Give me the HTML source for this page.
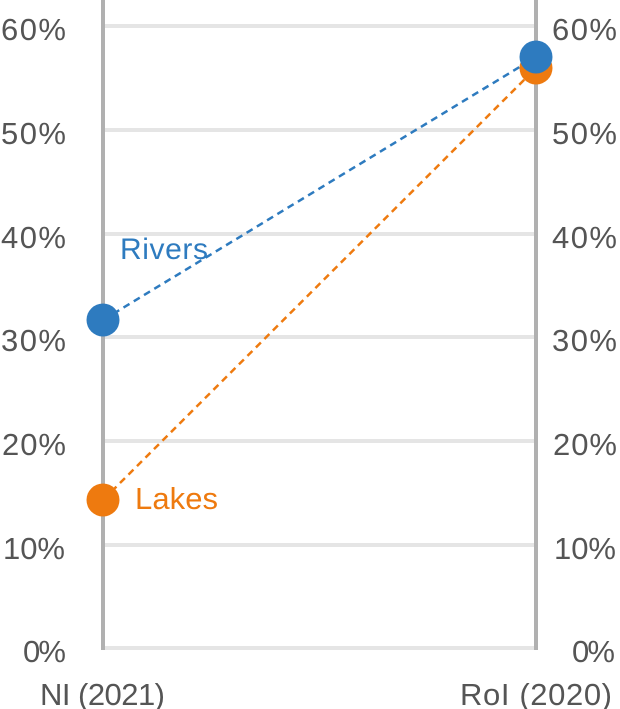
<!DOCTYPE html>
<html><head><meta charset="utf-8"><style>
html,body{margin:0;padding:0;background:#fff;}
svg{display:block;}
text{font-family:"Liberation Sans",sans-serif;}
</style></head><body>
<svg width="620" height="709" viewBox="0 0 620 709" xmlns="http://www.w3.org/2000/svg">
<g stroke="#e5e5e5" stroke-width="4">
<line x1="105" y1="26" x2="534" y2="26"/>
<line x1="105" y1="130" x2="534" y2="130"/>
<line x1="105" y1="234" x2="534" y2="234"/>
<line x1="105" y1="337" x2="534" y2="337"/>
<line x1="105" y1="441" x2="534" y2="441"/>
<line x1="105" y1="545" x2="534" y2="545"/>
<line x1="105" y1="648" x2="534" y2="648"/>
</g>
<line x1="103" y1="0" x2="103" y2="650" stroke="#b0b0b0" stroke-width="4"/>
<line x1="536" y1="0" x2="536" y2="650" stroke="#b0b0b0" stroke-width="4"/>
<g font-size="31" fill="#555555">
<text x="1" y="40" textLength="65">60%</text>
<text x="1" y="144" textLength="65">50%</text>
<text x="1" y="248" textLength="65">40%</text>
<text x="1" y="351" textLength="65">30%</text>
<text x="2" y="455" textLength="64">20%</text>
<text x="3" y="559" textLength="62">10%</text>
<text x="23" y="662" textLength="43">0%</text>
</g>
<g font-size="31" fill="#555555">
<text x="552" y="40" textLength="65">60%</text>
<text x="552" y="144" textLength="65">50%</text>
<text x="552" y="248" textLength="65">40%</text>
<text x="552" y="351" textLength="65">30%</text>
<text x="553" y="455" textLength="64">20%</text>
<text x="554" y="559" textLength="62">10%</text>
<text x="572" y="662" textLength="43">0%</text>
</g>
<text x="40" y="705" font-size="31" fill="#555555" textLength="125">NI (2021)</text>
<text x="460" y="705" font-size="31" fill="#555555" textLength="152">RoI (2020)</text>
<line x1="103" y1="320" x2="536" y2="57" stroke="#2e7bbf" stroke-width="2.5" stroke-dasharray="7,5"/>
<line x1="103" y1="500" x2="536" y2="68" stroke="#ee7a0f" stroke-width="2.5" stroke-dasharray="7,5"/>
<circle cx="536" cy="68" r="16.5" fill="#ee7a0f"/>
<circle cx="536" cy="57" r="16.5" fill="#2e7bbf"/>
<circle cx="103" cy="320" r="16.5" fill="#2e7bbf"/>
<circle cx="103" cy="500" r="16.5" fill="#ee7a0f"/>
<text x="120" y="259" font-size="30" fill="#2e7bbf" textLength="88">Rivers</text>
<text x="135" y="509" font-size="31" fill="#ee7a0f" textLength="83">Lakes</text>
</svg>
</body></html>
